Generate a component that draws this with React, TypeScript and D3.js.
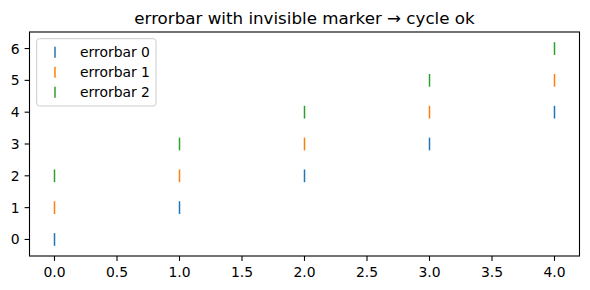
import React from "react";
import * as d3 from "d3";

const xs = [0, 1, 2, 3, 4];
const series0 = [0, 1, 2, 3, 4];
const series1 = [1, 2, 3, 4, 5];
const series2 = [2, 3, 4, 5, 6];
const yerr = 0.2;
const seriesNames = ["errorbar 0", "errorbar 1", "errorbar 2"];
const colors = ["#1f77b4", "#ff7f0e", "#2ca02c"];
const xTicks = [0, 0.5, 1, 1.5, 2, 2.5, 3, 3.5, 4];
const yTicks = [0, 1, 2, 3, 4, 5, 6];
const title = "errorbar with invisible marker \u2192 cycle ok";

const W = 590;
const H = 290;
const L = 29.5, R = 579.5, T = 32, B = 256;
const font = "DejaVu Sans, sans-serif";

export default function App() {
  const x = d3.scaleLinear().domain([-0.2, 4.2]).range([L, R]);
  const y = d3.scaleLinear().domain([-0.52, 6.52]).range([B, T]);
  const all = [series0, series1, series2];
  return (
    <svg width={W} height={H} style={{ position: "absolute", left: 0, top: 0, background: "#fff" }}>
      <rect x={0} y={0} width={W} height={H} fill="#fff" />
      <text x={(L + R) / 2} y={23.7} textAnchor="middle" fontFamily={font} fontSize={16.7} fill="#000">
        {title}
      </text>
      {all.map((s, si) => (
        <g key={si}>
          {s.map((v, i) => (
            <line key={i} x1={x(xs[i])} x2={x(xs[i])} y1={y(v - yerr)} y2={y(v + yerr)}
              stroke={colors[si]} strokeWidth={1.5} />
          ))}
        </g>
      ))}
      <rect x={L} y={T} width={R - L} height={B - T} fill="none" stroke="#000" strokeWidth={1.1} />
      {xTicks.map((t) => (
        <g key={t}>
          <line x1={x(t)} x2={x(t)} y1={B} y2={B + 4.9} stroke="#000" strokeWidth={1.1} />
          <text x={x(t)} y={277} textAnchor="middle" fontFamily={font} fontSize={13.9} fill="#000">
            {t.toFixed(1)}
          </text>
        </g>
      ))}
      {yTicks.map((t) => (
        <g key={t}>
          <line x1={L - 4.9} x2={L} y1={y(t)} y2={y(t)} stroke="#000" strokeWidth={1.1} />
          <text x={L - 9.8} y={y(t) + 5} textAnchor="end" fontFamily={font} fontSize={13.9} fill="#000">
            {t}
          </text>
        </g>
      ))}
      <rect x={36.7} y={38.7} width={119.3} height={67.3} rx={2.8} fill="#fff" fillOpacity={0.8}
        stroke="#cccccc" strokeWidth={1} />
      {seriesNames.map((n, i) => {
        const cy = 52.3 + i * 20;
        return (
          <g key={n}>
            <line x1={55} x2={55} y1={cy - 5.5} y2={cy + 5.5} stroke={colors[i]} strokeWidth={1.5} />
            <text x={80} y={cy + 5} fontFamily={font} fontSize={13.9} fill="#000">{n}</text>
          </g>
        );
      })}
    </svg>
  );
}
